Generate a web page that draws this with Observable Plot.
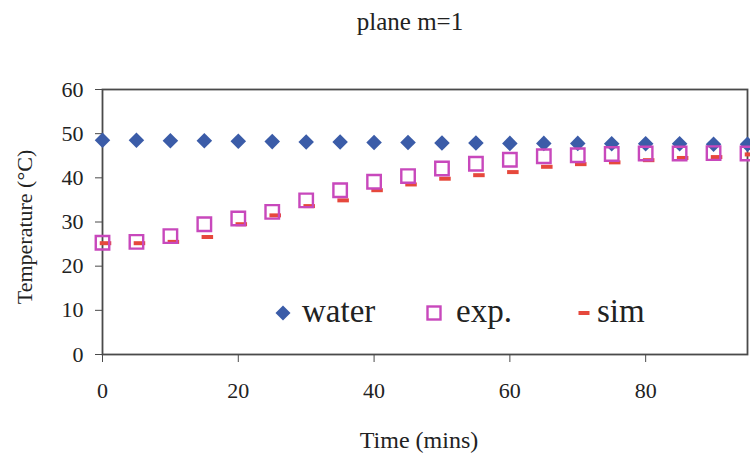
<!DOCTYPE html>
<html>
<head>
<meta charset="utf-8">
<script src="https://cdn.jsdelivr.net/npm/d3@7"></script>
<script src="https://cdn.jsdelivr.net/npm/@observablehq/plot@0.6"></script>
<style>
  html, body { margin: 0; padding: 0; background: #fff; }
  #wrap { position: relative; width: 750px; height: 458px; font-family: 'Liberation Serif', 'Times New Roman', serif; color: #222; }
  #title { height: 40px; line-height: 44px; text-align: center; font-size: 25px; padding-left: 70px; box-sizing: border-box; }
  #legend { position: absolute; top: 0; left: 0; width: 750px; height: 458px; pointer-events: none; }
  #legend .sym { position: absolute; }
  #legend .lab { position: absolute; font-size: 33px; line-height: 32px; white-space: nowrap; }
  svg text { font-family: 'Liberation Serif', 'Times New Roman', serif; }
</style>
</head>
<body>
<div id="wrap">
  <div id="title">plane m=1</div>
  <div id="chart"></div>
  <div id="legend"></div>
</div>
<script>
// Time in minutes
const time = [0, 5, 10, 15, 20, 25, 30, 35, 40, 45, 50, 55, 60, 65, 70, 75, 80, 85, 90, 95];
// Water temperature (°C)
const water = [48.5, 48.5, 48.4, 48.4, 48.3, 48.2, 48.1, 48.1, 48.0, 48.0, 47.9, 47.9, 47.8, 47.8, 47.8, 47.7, 47.7, 47.7, 47.6, 47.6];
// Measured temperature (°C)
const exp = [25.3, 25.5, 26.8, 29.5, 30.8, 32.3, 34.9, 37.2, 39.1, 40.4, 42.1, 43.2, 44.1, 44.9, 45.1, 45.4, 45.5, 45.5, 45.6, 45.5];
// Simulated temperature (°C)
const sim = [25.2, 25.2, 25.5, 26.6, 29.5, 31.5, 33.6, 34.9, 37.2, 38.5, 39.8, 40.6, 41.3, 42.5, 43.1, 43.5, 44.0, 44.5, 44.7, 45.3];

const xTicks = [0, 20, 40, 60, 80];
const yTicks = [0, 10, 20, 30, 40, 50, 60];

const colors = { water: "#3b5ca8", exp: "#c848bc", sim: "#e6483c" };

const rows = time.map((t, i) => ({ t, water: water[i], exp: exp[i], sim: sim[i] }));

// short flat bar used for the simulated series
const dash = {
  draw(context, size) {
    const w = Math.sqrt(size) * 0.5, h = 2;
    context.moveTo(-w, -h);
    context.lineTo(w, -h);
    context.lineTo(w, h);
    context.lineTo(-w, h);
    context.closePath();
  }
};

const font = "'Liberation Serif', 'Times New Roman', serif";

const chart = Plot.plot({
  width: 750,
  height: 418,
  marginLeft: 102,
  marginRight: 3,
  marginTop: 49,
  marginBottom: 104,
  style: { fontFamily: font, fontSize: "22px", color: "#222", background: "transparent" },
  x: { domain: [0, 95] },
  y: { domain: [0, 60] },
  marks: [
    Plot.frame({ stroke: "#4a4a4a", strokeWidth: 1.8 }),
    Plot.axisX(xTicks, { tickSize: 8, tickPadding: 20, label: null, stroke: "#4a4a4a", fontSize: 22, fontFamily: font }),
    Plot.axisY(yTicks, { tickSize: 7, tickPadding: 12, label: null, stroke: "#4a4a4a", fontSize: 22, fontFamily: font }),
    Plot.text(["Time (mins)"], { frameAnchor: "bottom", text: d => d, lineAnchor: "middle", textAnchor: "middle", dy: 86, dx: -6, fontSize: 24, fontFamily: font }),
    Plot.text(["Temperature (°C)"], { frameAnchor: "left", text: d => d, textAnchor: "middle", lineAnchor: "middle", rotate: -90, dx: -78, dy: 5, fontSize: 22, fontFamily: font }),
    Plot.dot(rows, { x: "t", y: "water", symbol: "diamond2", r: 7, fill: colors.water, stroke: "none" }),
    Plot.dot(rows, { x: "t", y: "sim", symbol: dash, r: 6.5, fill: colors.sim, stroke: "none", dx: 3 }),
    Plot.dot(rows, { x: "t", y: "exp", symbol: "square", r: 7.6, fill: "none", stroke: colors.exp, strokeWidth: 2.4 })
  ]
});
document.getElementById("chart").appendChild(chart);

// legend row drawn inside the plot area
const legendItems = [
  { label: "water", symX: 274, textX: 302, svg: `<svg width="18" height="18"><path d="M9,1.5L16.5,9L9,16.5L1.5,9Z" fill="${colors.water}"/></svg>` },
  { label: "exp.", symX: 425, textX: 456, svg: `<svg width="18" height="18"><rect x="2.5" y="2.5" width="13" height="13" fill="none" stroke="${colors.exp}" stroke-width="2.4"/></svg>` },
  { label: "sim", symX: 578, textX: 597, svg: `<svg width="12" height="18"><rect x="0.5" y="7" width="11" height="4" fill="${colors.sim}"/></svg>` }
];
const legend = document.getElementById("legend");
for (const item of legendItems) {
  const sym = document.createElement("div");
  sym.className = "sym";
  sym.style.left = item.symX + "px";
  sym.style.top = "304px";
  sym.innerHTML = item.svg;
  legend.appendChild(sym);
  const lab = document.createElement("div");
  lab.className = "lab";
  lab.style.left = item.textX + "px";
  lab.style.top = "295px";
  lab.textContent = item.label;
  legend.appendChild(lab);
}
</script>
</body>
</html>
